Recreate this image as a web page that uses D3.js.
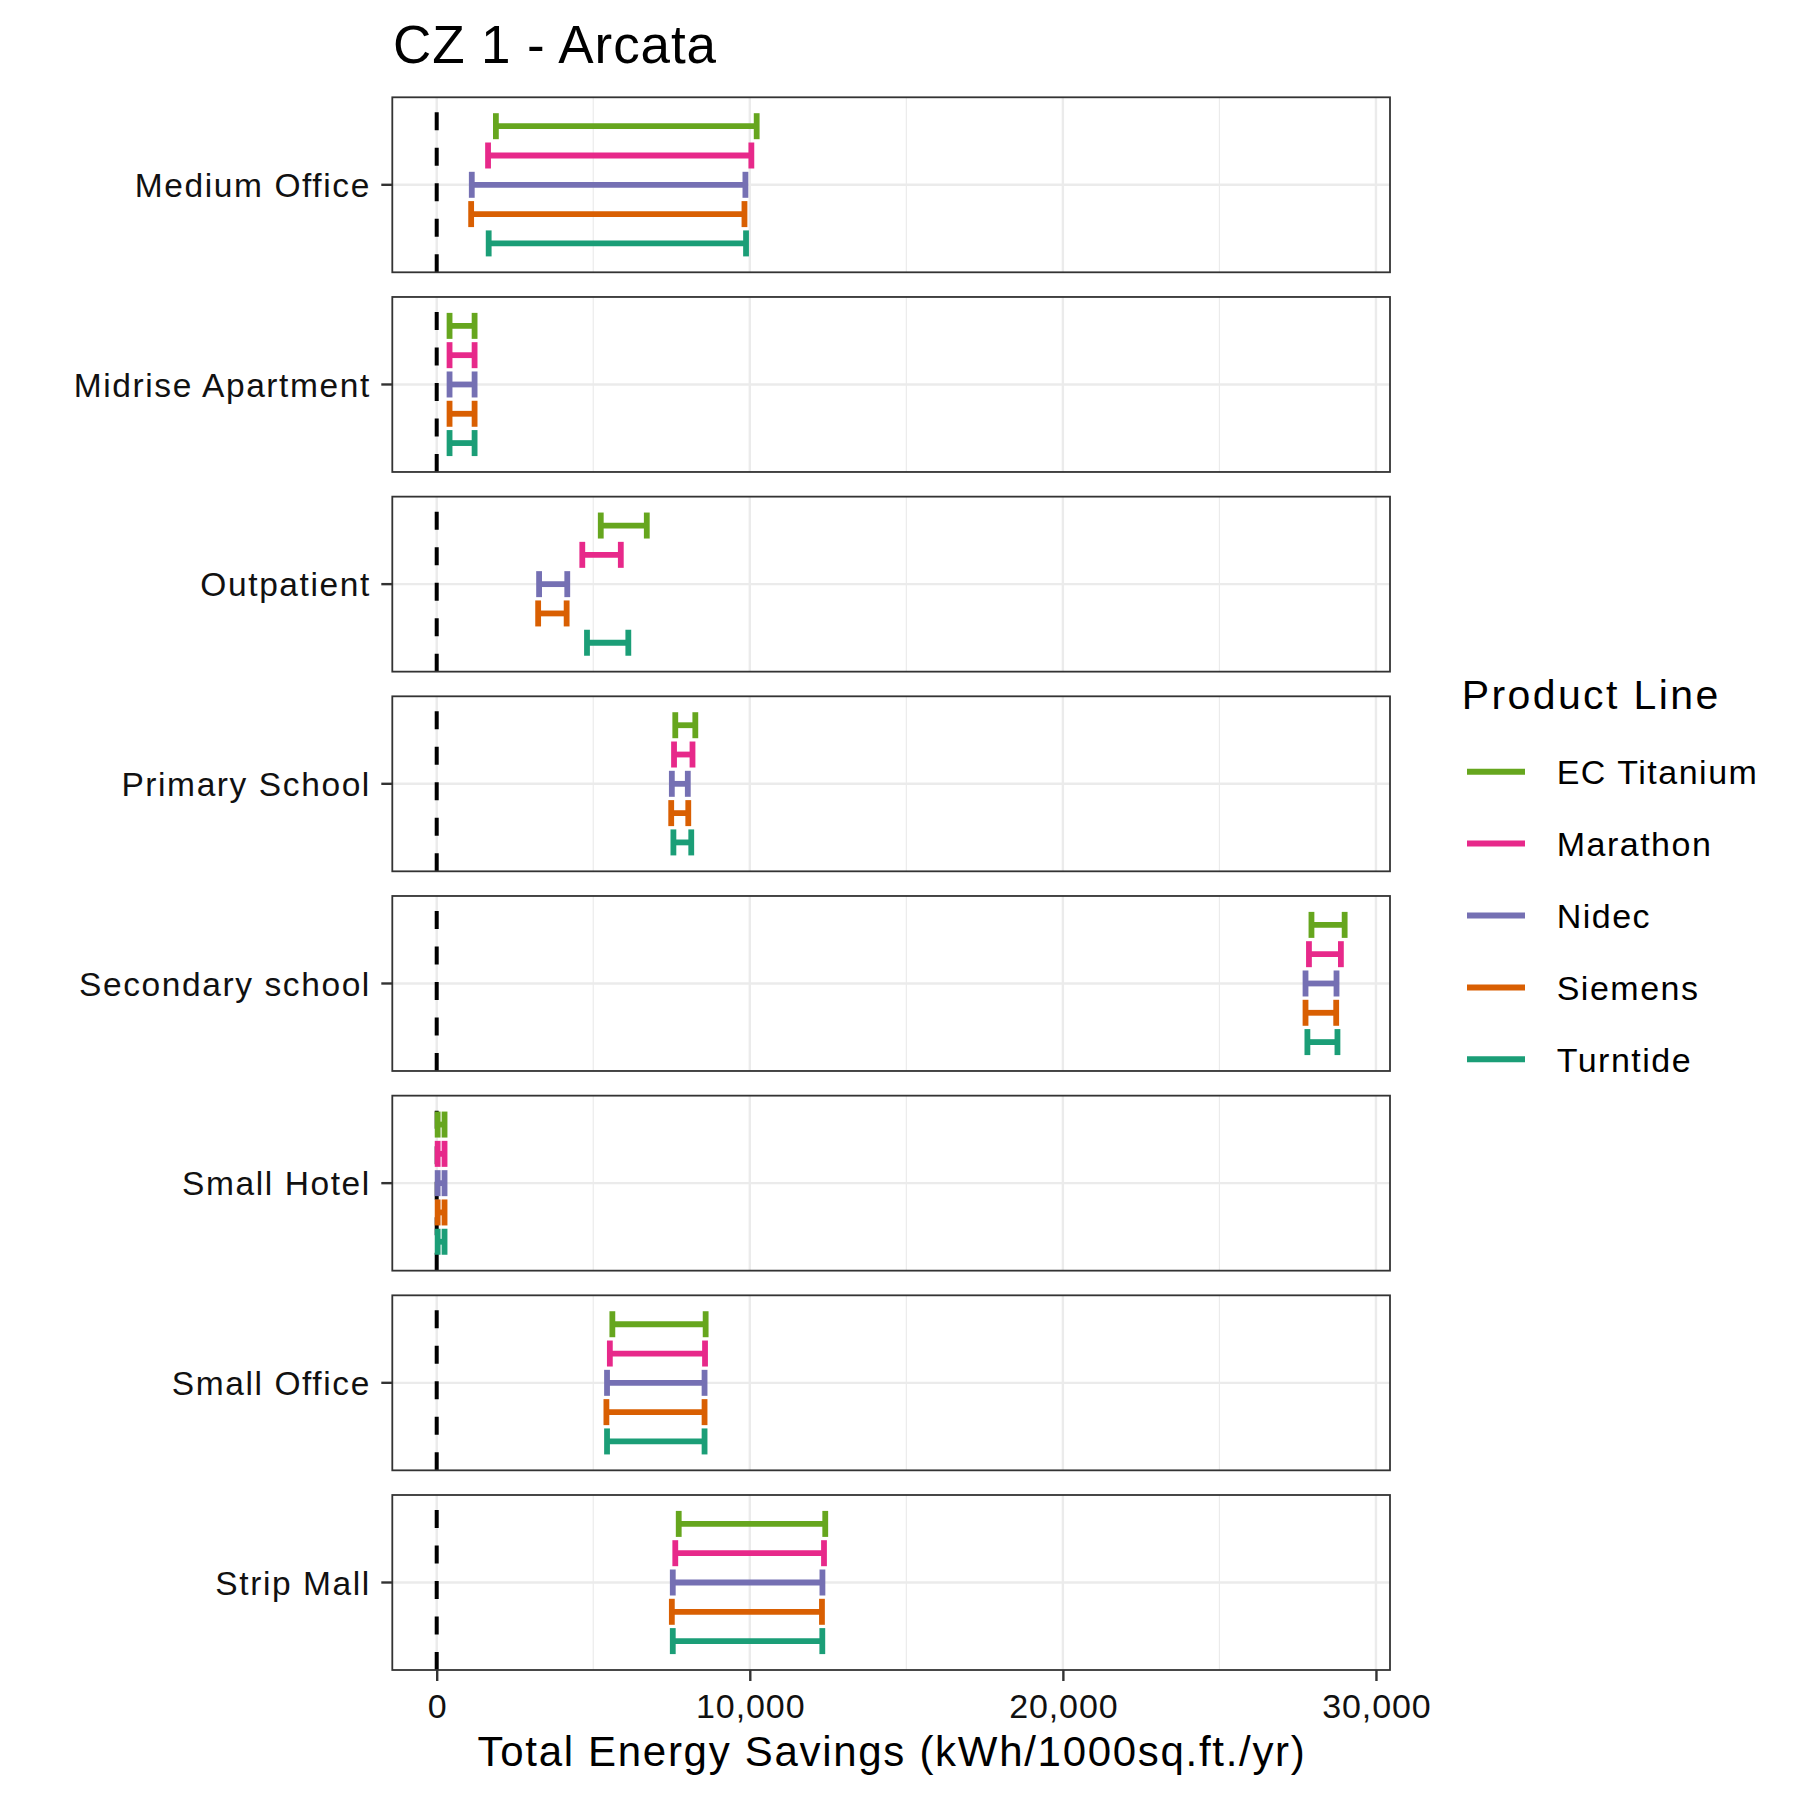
<!DOCTYPE html>
<html>
<head>
<meta charset="utf-8">
<script src="https://cdn.jsdelivr.net/npm/d3@7"></script>
<style>
  html, body { margin: 0; padding: 0; background: #fff; }
  svg text { font-family: "Liberation Sans", Arial, sans-serif; }
</style>
</head>
<body>
<svg id="chart" width="1800" height="1800"></svg>
<script>
// ---------- data ----------
const chartTitle = "CZ 1 - Arcata";
const xTitle = "Total Energy Savings (kWh/1000sq.ft./yr)";
const legendTitle = "Product Line";
const categories = ["Medium Office", "Midrise Apartment", "Outpatient", "Primary School",
                    "Secondary school", "Small Hotel", "Small Office", "Strip Mall"];
const products = ["EC Titanium", "Marathon", "Nidec", "Siemens", "Turntide"];
const productColors = ["#66A61E", "#E7298A", "#7570B3", "#D95F02", "#1B9E77"];
const xTicks = [0, 10000, 20000, 30000];
const xMinorTicks = [5000, 15000, 25000];

const ecTitaniumLow  = [1890, 410, 5240, 7620, 27940, 30, 5610, 7730];
const ecTitaniumHigh = [10220, 1210, 6710, 8260, 29000, 250, 8590, 12410];
const marathonLow    = [1640, 410, 4650, 7580, 27860, 30, 5530, 7620];
const marathonHigh   = [10050, 1210, 5880, 8170, 28880, 250, 8570, 12370];
const nidecLow       = [1120, 410, 3270, 7510, 27750, 30, 5440, 7540];
const nidecHigh      = [9860, 1210, 4170, 8020, 28740, 250, 8555, 12320];
const siemensLow     = [1100, 410, 3240, 7490, 27750, 30, 5420, 7510];
const siemensHigh    = [9830, 1210, 4150, 8035, 28730, 250, 8555, 12305];
const turntideLow    = [1660, 410, 4800, 7560, 27810, 30, 5440, 7540];
const turntideHigh   = [9880, 1210, 6120, 8130, 28770, 250, 8555, 12316];

const lows  = [ecTitaniumLow, marathonLow, nidecLow, siemensLow, turntideLow];
const highs = [ecTitaniumHigh, marathonHigh, nidecHigh, siemensHigh, turntideHigh];

const rows = [];
products.forEach((p, pi) => {
  categories.forEach((c, ci) => {
    rows.push({ product: p, category: c, low: lows[pi][ci], high: highs[pi][ci] });
  });
});

// ---------- layout ----------
const panelLeft = 392.3, panelRight = 1390;
const panelTop = 97.3, panelBottom = 1670;
const panelH = 175;

const dataMin = d3.min(rows, d => d.low);
const dataMax = d3.max(rows, d => d.high);
const pad = (dataMax - dataMin) * 0.05;
const x = d3.scaleLinear().domain([dataMin - pad, dataMax + pad]).range([panelLeft, panelRight]);

const pitch = (panelBottom - panelTop - panelH) / (categories.length - 1);
const y = d3.scaleBand().domain(categories).range([panelTop, panelBottom])
  .paddingInner((pitch - panelH) / pitch).paddingOuter(0);

const color = d3.scaleOrdinal().domain(products).range(productColors);
const dodge = 58.6;
const capHalf = 13;
const barW = 5.8;

const svg = d3.select("#chart");
svg.append("rect").attr("width", 1800).attr("height", 1800).attr("fill", "#fff");

// title
svg.append("text").attr("x", 393).attr("y", 63).attr("font-size", 53).attr("fill", "#000")
  .attr("letter-spacing", 0.9).text(chartTitle);

// panels
categories.forEach(cat => {
  const top = y(cat);
  const h = y.bandwidth();
  const cy = top + h / 2;
  const g = svg.append("g");
  g.append("rect").attr("x", panelLeft).attr("y", top).attr("width", panelRight - panelLeft)
    .attr("height", h).attr("fill", "#fff");
  g.selectAll(".minor").data(xMinorTicks).join("line")
    .attr("x1", d => x(d)).attr("x2", d => x(d)).attr("y1", top).attr("y2", top + h)
    .attr("stroke", "#EBEBEB").attr("stroke-width", 1.2);
  g.selectAll(".major").data(xTicks).join("line")
    .attr("x1", d => x(d)).attr("x2", d => x(d)).attr("y1", top).attr("y2", top + h)
    .attr("stroke", "#EBEBEB").attr("stroke-width", 2.4);
  g.append("line").attr("x1", panelLeft).attr("x2", panelRight).attr("y1", cy).attr("y2", cy)
    .attr("stroke", "#EBEBEB").attr("stroke-width", 2.4);
  g.append("line").attr("x1", x(0)).attr("x2", x(0)).attr("y1", top + h).attr("y2", top)
    .attr("stroke", "#000").attr("stroke-width", 4).attr("stroke-dasharray", "18,17.5");

  const py = d3.scalePoint().domain(products).range([cy - dodge, cy + dodge]);
  const data = rows.filter(r => r.category === cat);
  const eb = g.selectAll(".eb").data(data).join("g")
    .attr("stroke", d => color(d.product)).attr("stroke-width", barW).attr("fill", "none");
  eb.append("line").attr("x1", d => x(d.low)).attr("x2", d => x(d.high))
    .attr("y1", d => py(d.product)).attr("y2", d => py(d.product));
  eb.append("line").attr("x1", d => x(d.low)).attr("x2", d => x(d.low))
    .attr("y1", d => py(d.product) - capHalf).attr("y2", d => py(d.product) + capHalf);
  eb.append("line").attr("x1", d => x(d.high)).attr("x2", d => x(d.high))
    .attr("y1", d => py(d.product) - capHalf).attr("y2", d => py(d.product) + capHalf);

  g.append("rect").attr("x", panelLeft).attr("y", top).attr("width", panelRight - panelLeft)
    .attr("height", h).attr("fill", "none").attr("stroke", "#333333").attr("stroke-width", 1.8);
});

// y axis
const yAxis = svg.append("g").attr("transform", `translate(${panelLeft},0)`)
  .call(d3.axisLeft(y).tickSize(11).tickPadding(12));
yAxis.select(".domain").remove();
yAxis.selectAll(".tick line").attr("stroke", "#333333").attr("stroke-width", 2.4);
yAxis.selectAll(".tick text").attr("font-size", 33.5).attr("fill", "#111")
  .attr("font-family", "Liberation Sans, Arial, sans-serif").attr("dy", "0.36em")
  .attr("letter-spacing", 1.6).attr("dx", 1.6);

// x axis
const xAxis = svg.append("g").attr("transform", `translate(0,${panelBottom})`)
  .call(d3.axisBottom(x).tickValues(xTicks).tickSize(11).tickPadding(13).tickFormat(d3.format(",")));
xAxis.select(".domain").remove();
xAxis.selectAll(".tick line").attr("stroke", "#333333").attr("stroke-width", 2.4);
xAxis.selectAll(".tick text").attr("font-size", 34).attr("fill", "#111")
  .attr("font-family", "Liberation Sans, Arial, sans-serif").attr("dy", "0.72em")
  .attr("letter-spacing", 0.9).attr("dx", 0.45);

svg.append("text").attr("x", (panelLeft + panelRight) / 2 + 0.85).attr("y", 1766)
  .attr("text-anchor", "middle").attr("font-size", 42).attr("fill", "#000")
  .attr("letter-spacing", 1.7).text(xTitle);

// legend
const legend = svg.append("g");
legend.append("text").attr("x", 1461.7).attr("y", 709).attr("font-size", 41).attr("fill", "#000")
  .attr("letter-spacing", 2.4).text(legendTitle);
const ly = d3.scalePoint().domain(products).range([771.7, 1059.3]);
const li = legend.selectAll(".li").data(products).join("g");
li.append("line").attr("x1", 1467).attr("x2", 1525).attr("y1", d => ly(d)).attr("y2", d => ly(d))
  .attr("stroke", d => color(d)).attr("stroke-width", 6);
li.append("text").attr("x", 1556.7).attr("y", d => ly(d) + 12.5).attr("font-size", 34)
  .attr("fill", "#000").attr("letter-spacing", 1.5).text(d => d);
</script>
</body>
</html>
